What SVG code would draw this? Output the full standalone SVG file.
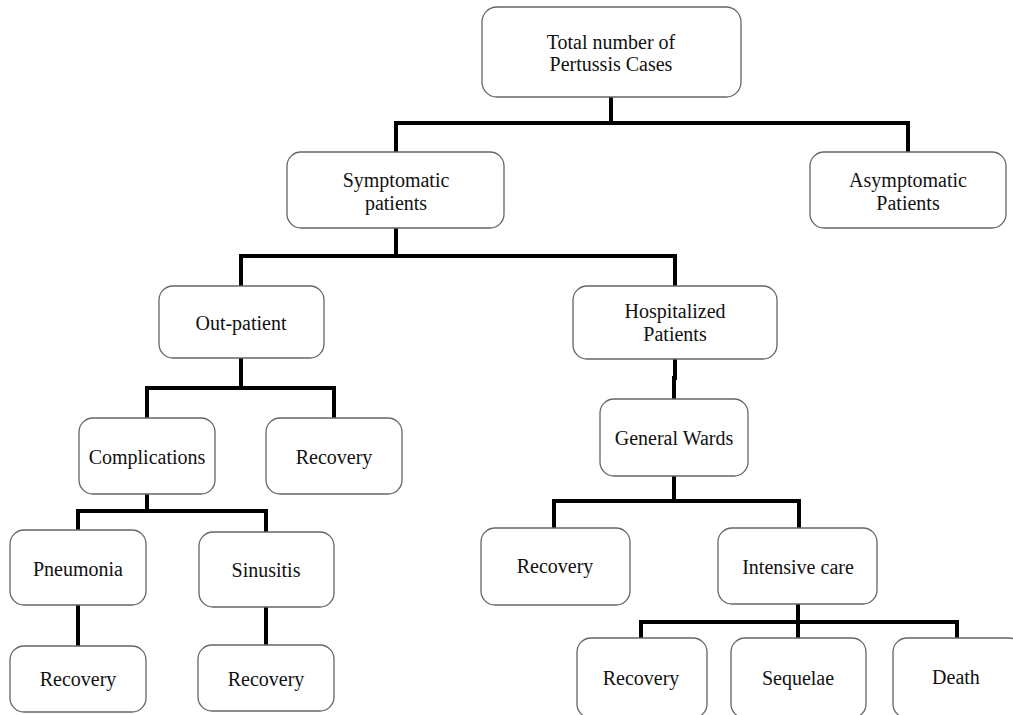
<svg xmlns="http://www.w3.org/2000/svg" width="1013" height="715" viewBox="0 0 1013 715">
<style>
.box{fill:#fff;stroke:#666;stroke-width:1.3}
.lbl{font-family:"Liberation Serif","Times New Roman",serif;font-size:20px;fill:#111;text-anchor:middle}
.con{fill:none;stroke:#000;stroke-width:4;stroke-linejoin:miter;stroke-linecap:square}
</style>
<rect width="1013" height="715" fill="#fff"/>
<g id="connectors">
<path class="con" d="M611,97 V123 M396,150 V123 H908 V150"/>
<path class="con" d="M396,228 V256 M241,284 V256 H675 V284"/>
<path class="con" d="M675,359 V378 H674 V397"/>
<path class="con" d="M674,476 V501 M554,526 V501 H799 V526"/>
<path class="con" d="M798,604 V622 M641,636 V622 H957 V636 M798,622 V636"/>
<path class="con" d="M241,358 V388 M147,416 V388 H334 V416"/>
<path class="con" d="M147,494 V511 M78,528 V511 H266 V530"/>
<path class="con" d="M78,605 V644 M266,607 V643"/>
</g>
<g id="total"><rect class="box" x="482" y="7" width="259" height="90" rx="15"/><text class="lbl" x="611" y="49">Total number of</text><text class="lbl" x="611" y="71">Pertussis Cases</text></g>
<g id="symptomatic"><rect class="box" x="287" y="152" width="217" height="76" rx="14"/><text class="lbl" x="396" y="187">Symptomatic</text><text class="lbl" x="396" y="210">patients</text></g>
<g id="asymptomatic"><rect class="box" x="810" y="152" width="196" height="76" rx="14"/><text class="lbl" x="908" y="187">Asymptomatic</text><text class="lbl" x="908" y="210">Patients</text></g>
<g id="outpatient"><rect class="box" x="159" y="286" width="165" height="72" rx="14"/><text class="lbl" x="241" y="330">Out-patient</text></g>
<g id="hospitalized"><rect class="box" x="573" y="286" width="204" height="73" rx="14"/><text class="lbl" x="675" y="318">Hospitalized</text><text class="lbl" x="675" y="341">Patients</text></g>
<g id="general-wards"><rect class="box" x="600" y="399" width="148" height="77" rx="14"/><text class="lbl" x="674" y="445">General Wards</text></g>
<g id="recovery-gw"><rect class="box" x="481" y="528" width="149" height="77" rx="14"/><text class="lbl" x="555" y="573">Recovery</text></g>
<g id="intensive-care"><rect class="box" x="718" y="528" width="159" height="76" rx="14"/><text class="lbl" x="798" y="574">Intensive care</text></g>
<g id="recovery-ic"><rect class="box" x="577" y="638" width="130" height="80" rx="14"/><text class="lbl" x="641" y="685">Recovery</text></g>
<g id="sequelae"><rect class="box" x="731" y="638" width="135" height="80" rx="14"/><text class="lbl" x="798" y="685">Sequelae</text></g>
<g id="death"><rect class="box" x="893" y="638" width="130" height="80" rx="14"/><text class="lbl" x="956" y="684">Death</text></g>
<g id="complications"><rect class="box" x="79" y="418" width="136" height="76" rx="14"/><text class="lbl" x="147" y="464">Complications</text></g>
<g id="recovery-op"><rect class="box" x="266" y="418" width="136" height="76" rx="14"/><text class="lbl" x="334" y="464">Recovery</text></g>
<g id="pneumonia"><rect class="box" x="10" y="530" width="136" height="75" rx="14"/><text class="lbl" x="78" y="576">Pneumonia</text></g>
<g id="sinusitis"><rect class="box" x="199" y="532" width="135" height="75" rx="14"/><text class="lbl" x="266" y="577">Sinusitis</text></g>
<g id="recovery-pn"><rect class="box" x="10" y="646" width="136" height="66" rx="14"/><text class="lbl" x="78" y="686">Recovery</text></g>
<g id="recovery-si"><rect class="box" x="198" y="645" width="136" height="66" rx="14"/><text class="lbl" x="266" y="686">Recovery</text></g>
</svg>
